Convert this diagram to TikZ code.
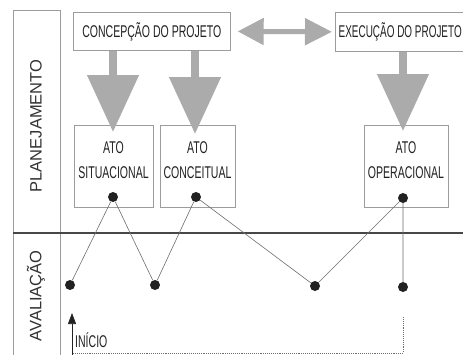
\documentclass[tikz,border=0pt]{standalone}
\usepackage{fontspec}
\setmainfont{Liberation Sans}
\newfontfamily\condfont[FakeStretch=0.62]{Liberation Sans}
\newfontfamily\condfontb[FakeStretch=0.585]{Liberation Sans}
\usetikzlibrary{arrows.meta}
\definecolor{arrowgray}{HTML}{ABABAB}
\definecolor{boxgray}{HTML}{9C9C9C}
\definecolor{linegray}{HTML}{6E6E6E}
\definecolor{inkgray}{HTML}{222222}
\begin{document}
\begin{tikzpicture}[x=1pt,y=-1pt,
  box/.style={draw=boxgray, line width=0.7pt, inner sep=0pt, align=center,
    font=\condfont\fontsize{17}{19}\selectfont, text=inkgray},
  atobox/.style={box, minimum height=82pt, text depth=12.5pt},
  sidelabel/.style={rotate=90, font=\fontsize{16.5}{18}\selectfont, text=black!80},
  dot/.style={circle, fill=inkgray, inner sep=0pt, minimum size=10pt},
  conn/.style={linegray, line width=0.6pt},
  bigdown/.style={arrowgray, line width=8pt, -{Triangle[length=57pt,width=50pt]}},
  bigboth/.style={arrowgray, line width=5pt,
    {Triangle[length=26pt,width=26pt]}-{Triangle[length=27pt,width=26pt]}},
  divider/.style={black!72, line width=2.6pt}]
\clip (0,0) rectangle (463,354);
\fill[white] (0,0) rectangle (463,354);

% left column frame
\node[draw=boxgray, line width=0.7pt, minimum width=47pt, minimum height=360pt,
  anchor=north west, inner sep=0pt] (col) at (13,10) {};
\node[sidelabel] (plan) at (36,126) {PLANEJAMENTO};
\node[sidelabel] (aval) at (36,296) {AVALIAÇÃO};

% divider
\draw[divider] (col.west |- 0,233) -- (463,233);

% top boxes
\node[box, minimum width=157pt, minimum height=38pt, anchor=north west] (cp) at (73,12) {CONCEPÇÃO DO PROJETO};
\node[box, minimum width=135pt, minimum height=39pt, anchor=north west] (ep) at (335,12) {};
\node[font=\condfontb\fontsize{17}{19}\selectfont, text=inkgray, inner sep=0pt, anchor=west] (eptext) at (338.5,31.5) {EXECUÇÃO DO PROJETO};

% ATO boxes
\node[atobox, minimum width=79pt] (sit) at (113.5,166) {ATO\\[6pt]SITUACIONAL};
\node[atobox, minimum width=75pt] (con) at (197.5,166) {ATO\\[6pt]CONCEITUAL};
\node[atobox, minimum width=84pt] (ope) at (406,166) {ATO\\[6pt]OPERACIONAL};

% big gray arrows
\coordinate (t1) at (113,132);
\coordinate (t2) at (195,134);
\coordinate (t3) at (403,131);
\draw[bigdown] (cp.south -| t1) -- (t1);
\draw[bigdown] (cp.south -| t2) -- (t2);
\draw[bigdown] (ep.south -| t3) -- (t3);
\draw[bigboth, shorten <=7pt, shorten >=3pt] (cp.east) -- (ep.west);

% dots
\node[dot] (p1) at (113,197) {};
\node[dot] (p2) at (196,197) {};
\node[dot] (p3) at (403,198) {};
\node[dot] (q1) at (70,285) {};
\node[dot] (q2) at (155,285) {};
\node[dot] (q3) at (315,286) {};
\node[dot] (q4) at (403,287) {};
\draw[conn] (q1) -- (p1) -- (q2) -- (p2) -- (q3) -- (p3) -- (q4);

% start path
\coordinate (dtop) at (403,317);
\coordinate (corner) at (403,353);
\coordinate (start) at (72,356);
\coordinate (tip) at (72,313);
\draw[linegray, line width=0.9pt, densely dotted] (dtop) -- (corner) -- (corner -| start);
\draw[inkgray, line width=0.7pt, -{Triangle[length=11pt,width=8pt]}] (start) -- (tip);
\node[font=\condfont\fontsize{17}{19}\selectfont, text=inkgray, anchor=west, inner sep=0pt] (inicio) at (75,340) {INÍCIO};
\end{tikzpicture}
\end{document}
